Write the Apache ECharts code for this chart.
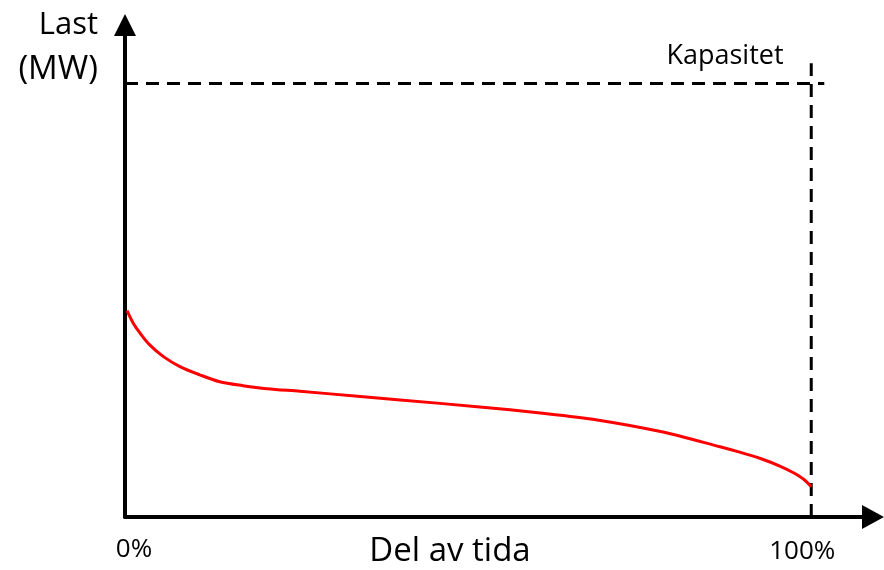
<!DOCTYPE html>
<html>
<head>
<meta charset="utf-8">
<script src="https://cdn.jsdelivr.net/npm/echarts@6/dist/echarts.min.js"></script>
<style>
  html, body { margin: 0; padding: 0; background: #fff; }
  #main { width: 884px; height: 570px; }
</style>
</head>
<body>
<div id="main"></div>
<script>
// varighetskurve: del av tida (%) og last (relativ til kapasitet = 100)
var tidPst = [0.3, 1.2, 2.2, 3.6, 5.6, 8.0, 10.9, 13.8, 17.2, 20.7, 25.5, 34.3, 40.1, 51.7, 60.5, 68.8, 78.4, 86.7, 89.7, 92.6, 95.5, 97.4, 98.9, 100];
var last = [47.6, 44.7, 42.4, 39.7, 37.0, 34.7, 32.8, 31.2, 30.3, 29.6, 29.0, 27.8, 27.0, 25.4, 24.0, 22.4, 19.6, 16.2, 14.9, 13.5, 11.7, 10.2, 8.7, 7.0];
var kapasitet = 100;
var tickLabels = { 0: '{a|0%}', 100: '{b|100%}' };

var fontFam = 'Open Sans';

var chart = echarts.init(document.getElementById('main'));

var kurve = tidPst.map(function (t, i) { return [t, last[i]]; });

function tekst(str, x, y, size, align) {
    return {
        type: 'text',
        style: {
            text: str, x: x, y: y,
            fontSize: size, fontFamily: fontFam,
            fill: '#000', textAlign: align, textVerticalAlign: 'middle'
        }
    };
}

var option = {
    animation: false,
    grid: { left: 125, right: 11, top: 25, bottom: 53 },
    xAxis: {
        type: 'value',
        min: 0,
        max: 109,
        interval: 100,
        axisLine: {
            show: true,
            symbol: ['none', 'triangle'],
            symbolSize: [24, 22],
            lineStyle: { color: '#000', width: 4 }
        },
        axisTick: { show: false },
        splitLine: { show: false },
        axisLabel: {
            margin: 20,
            color: '#000',
            showMaxLabel: false,
            formatter: function (v) { return tickLabels[v] || ''; },
            rich: {
                a: { fontFamily: fontFam, fontSize: 26, color: '#000', padding: [0, 0, 0, 18] },
                b: { fontFamily: fontFam, fontSize: 26, color: '#000', padding: [2, 18, 0, 0] }
            }
        }
    },
    yAxis: {
        type: 'value',
        min: 0,
        max: 113.5,
        axisLine: {
            show: true,
            symbol: ['none', 'triangle'],
            symbolSize: [22, 22],
            lineStyle: { color: '#000', width: 4 }
        },
        axisTick: { show: false },
        axisLabel: { show: false },
        splitLine: { show: false }
    },
    series: [
        {
            // kapasitet, horisontal
            type: 'line',
            data: [[0, kapasitet], [101.9, kapasitet]],
            symbol: 'none',
            lineStyle: { color: '#000', width: 3, type: [13, 8] },
            z: 1
        },
        {
            // 100 % av tida, vertikal
            type: 'line',
            data: [[100, 0], [100, 104.7]],
            symbol: 'none',
            lineStyle: { color: '#000', width: 3, type: [13, 8] },
            z: 1
        },
        {
            type: 'line',
            data: kurve,
            symbol: 'none',
            smooth: 0.3,
            lineStyle: { color: '#ff0000', width: 3 },
            z: 3
        }
    ],
    graphic: [
        tekst('Last', 98, 25, 31, 'right'),
        tekst('(MW)', 98, 70, 33, 'right'),
        tekst('Kapasitet', 725, 56, 27, 'center'),
        tekst('Del av tida', 450, 552, 33, 'center')
    ]
};

chart.setOption(option);
</script>
</body>
</html>
